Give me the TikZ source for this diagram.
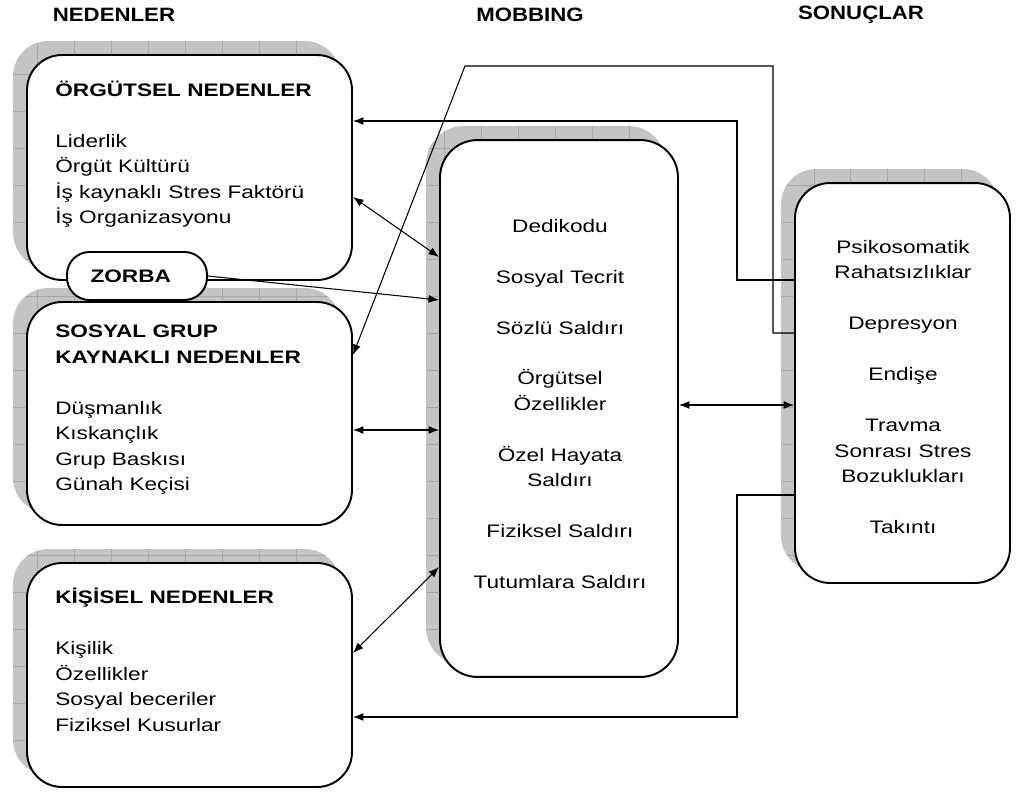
\documentclass[tikz,border=0pt]{standalone}
\usepackage{fontspec}
\setmainfont[FakeStretch=1.25]{Liberation Sans}
\newfontfamily\headfont[FakeStretch=1.15]{Liberation Sans}
\usetikzlibrary{backgrounds,arrows.meta}

\definecolor{shadegray}{HTML}{C4C4C4}
\definecolor{gridgray}{HTML}{A6A6A6}

\tikzset{
  box/.style={draw, line width=1.1pt, fill=white, rounded corners=0.7cm, inner sep=0pt},
  shadebox/.style={fill=shadegray, rounded corners=0.7cm,
    path picture={\draw[gridgray, line width=0.4pt] (path picture bounding box.south west)
      grid[step=0.74cm] (path picture bounding box.north east);}},
  boxtext/.style={inner sep=0pt, font={\fontsize{10.3pt}{14.5pt}\selectfont}},
  head/.style={inner sep=0pt, font={\headfont\bfseries\fontsize{11pt}{13pt}\selectfont}},
  link/.style={line width=0.6pt, -{Latex[length=6pt,width=4.5pt]}},
  dlink/.style={line width=0.6pt, {Latex[length=6pt,width=4.5pt]}-{Latex[length=6pt,width=4.5pt]}}
}

\begin{document}
\begin{tikzpicture}[x=0.02cm, y=-0.02cm]
\useasboundingbox (0,0) rectangle (1017,794);

\node[head] (hneden) at (114,15) {NEDENLER};
\node[head] (hmob) at (530,15) {MOBBING};
\node[head] (hson) at (861,15) {SONUÇLAR};

% kutular
\node[box, minimum width=6.5cm, minimum height=4.5cm] (org) at (189.5,167.5) {};
\node[box, minimum width=6.5cm, minimum height=4.46cm] (sos) at (189.5,413.5) {};
\node[box, minimum width=6.5cm, minimum height=4.48cm] (kis) at (189.5,675) {};
\node[box, rounded corners=0.75cm, minimum width=4.76cm, minimum height=10.74cm] (mob) at (559,408.5) {};
\node[box, minimum width=4.3cm, minimum height=8cm] (son) at (902.5,383) {};
\node[box, rounded corners=0.45cm, minimum width=2.8cm, minimum height=0.96cm,
  font={\bfseries\fontsize{10.3pt}{12pt}\selectfont}] (zorba) at (137,276) {ZORBA\hspace*{0.25cm}};

\begin{scope}[on background layer]
\foreach \b/\r in {org/0.7cm, sos/0.7cm, kis/0.7cm, mob/0.75cm, son/0.7cm}
  \path[shadebox, rounded corners=\r] ([shift={(-13,-13)}]\b.south west) rectangle ([shift={(-13,-13)}]\b.north east);
\end{scope}

\node[boxtext, anchor=west, align=left] (orgtext) at (55,154) {\textbf{ÖRGÜTSEL NEDENLER}\\[14.5pt]
  Liderlik\\Örgüt Kültürü\\İş kaynaklı Stres Faktörü\\İş Organizasyonu};
\node[boxtext, anchor=west, align=left] (sostext) at (55,410) {\textbf{SOSYAL GRUP}\\\textbf{KAYNAKLI NEDENLER}\\[14.5pt]
  Düşmanlık\\Kıskançlık\\Grup Baskısı\\Günah Keçisi};
\node[boxtext, anchor=west, align=left] (kistext) at (55,660) {\textbf{KİŞİSEL NEDENLER}\\[14.5pt]
  Kişilik\\Özellikler\\Sosyal beceriler\\Fiziksel Kusurlar};
\node[boxtext, align=center] (mobtext) at (560,404) {Dedikodu\\[14.5pt]Sosyal Tecrit\\[14.5pt]Sözlü Saldırı\\[14.5pt]
  Örgütsel\\Özellikler\\[14.5pt]Özel Hayata\\Saldırı\\[14.5pt]Fiziksel Saldırı\\[14.5pt]Tutumlara Saldırı};
\node[boxtext, align=center] (sontext) at (903,387) {Psikosomatik\\Rahatsızlıklar\\[14.5pt]Depresyon\\[14.5pt]Endişe\\[14.5pt]
  Travma\\Sonrası Stres\\Bozuklukları\\[14.5pt]Takıntı};

% oklar
\draw[link] (son.west |- 0,280) -| (737,121) -- (org.east |- 0,121);
\draw[link] (son.west |- 0,333) -| (773,66) -- (465,66) -- (sos.east |- 0,355);
\draw[dlink] (org.east |- 0,197) -- (mob.west |- 0,257);
\draw[link] (zorba.east) -- (mob.west |- 0,300);
\draw[dlink] (sos.east |- 0,430) -- (mob.west |- 0,430);
\draw[dlink] (kis.east |- 0,653) -- (mob.west |- 0,567);
\draw[dlink] (mob.east |- 0,405) -- (son.west |- 0,405);
\draw[link] (son.west |- 0,495) -| (737,717) -- (kis.east |- 0,717);
\end{tikzpicture}
\end{document}
